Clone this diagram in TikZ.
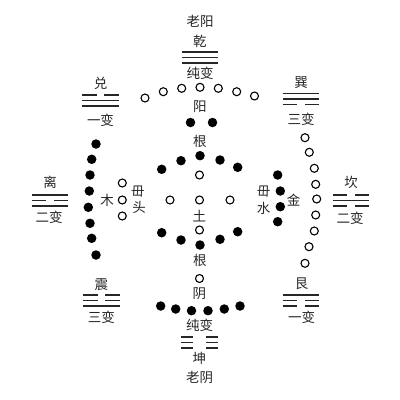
\documentclass[tikz,border=0pt]{standalone}
\usepackage{fontspec}
\newfontfamily\cjk{Noto Sans CJK SC}
\begin{document}
\begin{tikzpicture}[x=1pt,y=-1pt,
  lbl/.style={inner sep=0pt,font=\cjk\fontsize{13.5}{14}\selectfont,text=black!85},
  odot/.style={circle,draw=black,line width=1.1pt,fill=white,minimum size=8pt,inner sep=0pt},
  bdot/.style={circle,fill=black,minimum size=9.5pt,inner sep=0pt},
  yao/.style={line width=1.5pt,black!85}]
\useasboundingbox (0,0) rectangle (400,400);
\newcommand\solidyao[2]{\draw[yao] ({#1-18.3},#2) -- ({#1+18.3},#2);}
\newcommand\brokenyao[3]{\draw[yao] ({#1-18.3},#2) -- ({#1-#3},#2) ({#1+#3},#2) -- ({#1+18.3},#2);}
% top: qian
\node[lbl] (laoyang) at (200,21) {老阳};
\node[lbl] (qian) at (200,41) {乾};
\solidyao{200}{52}\solidyao{200}{57.5}\solidyao{200}{63}
\node[lbl] (qianb) at (200,73) {纯变};
\foreach \x/\y [count=\i] in {145/98,163.3/91.7,181.7/88.3,200/87.3,218.3/88.3,236.7/91.7,254.5/96}
  \node[odot] (t\i) at (\x,\y) {};
\node[lbl] (yang) at (200,106.5) {阳};
\node[bdot] (y1) at (190.5,122.5) {};
\node[bdot] (y2) at (212.5,122.5) {};
\node[lbl] (gen1) at (200,141) {根};
% dui
\node[lbl] (dui) at (100.5,83) {兑};
\brokenyao{100.5}{95}{3.8}\solidyao{100.5}{100.5}\solidyao{100.5}{106}
\node[lbl] (duib) at (100.5,120) {一变};
% li
\node[lbl] (li) at (50,182) {离};
\solidyao{50}{195}\brokenyao{50}{200.5}{3.8}\solidyao{50}{206}
\node[lbl] (lib) at (49,217) {二变};
% zhen
\node[lbl] (zhen) at (101.5,285) {震};
\brokenyao{101.5}{295}{3.8}\brokenyao{101.5}{300.5}{3.8}\solidyao{101.5}{306}
\node[lbl] (zhenb) at (101.5,317.5) {三变};
% xun
\node[lbl] (xun) at (301,83) {巽};
\solidyao{301}{93.5}\solidyao{301}{99}\brokenyao{301}{104.5}{3.8}
\node[lbl] (xunb) at (301,119.5) {三变};
% kan
\node[lbl] (kan) at (351,182) {坎};
\brokenyao{351}{195}{3.8}\solidyao{351}{200.5}\brokenyao{351}{206}{3.8}
\node[lbl] (kanb) at (350,218.5) {二变};
% gen
\node[lbl] (genb1) at (301.5,283.5) {艮};
\solidyao{301}{295}\brokenyao{301}{300.5}{3.8}\brokenyao{301}{306}{3.8}
\node[lbl] (genb) at (301.5,317) {一变};
% left arc
\foreach \x/\y [count=\i] in {96/144,91.7/159.3,90/175,89.3/191,88.3/207.3,90/223.3,91.7/238.3,96/255}
  \node[bdot] (l\i) at (\x,\y) {};
% right arc
\foreach \x/\y [count=\i] in {305/137.7,309.3/152.3,314.3/168.3,315.7/184.3,316.7/199,315.7/215,314.3/231,309/246.7,305/263.3}
  \node[odot] (r\i) at (\x,\y) {};
% center
\foreach \x/\y [count=\i] in {161.7/169.3,181/160.7,200/155.7,220/160,237.7/167.3}
  \node[bdot] (cu\i) at (\x,\y) {};
\foreach \x/\y [count=\i] in {161.7/232.7,181/240,200/245,220/239.3,237.7/231.7}
  \node[bdot] (cd\i) at (\x,\y) {};
\node[odot] (c1) at (199.5,175) {};
\node[odot] (c2) at (170,200) {};
\node[odot] (c3) at (199.5,200) {};
\node[odot] (c4) at (230,200) {};
\node[lbl] (tu) at (199.5,216.5) {土};
\node[odot] (c5) at (199.5,230) {};
\node[lbl] (gen2) at (200,260) {根};
% wood
\node[odot] (w1) at (122.3,183) {};
\node[odot] (w2) at (122.3,200) {};
\node[odot] (w3) at (122.3,216) {};
\node[lbl] (mu) at (107,200) {木};
\node[lbl] (wu1) at (138,192) {毌};
\node[lbl] (tou) at (139,207) {头};
% metal
\node[bdot] (m1) at (277.7,175) {};
\node[bdot] (m2) at (280.3,191) {};
\node[bdot] (m3) at (280.3,206.7) {};
\node[bdot] (m4) at (277.7,221.7) {};
\node[lbl] (wu2) at (263.5,192) {毌};
\node[lbl] (shui) at (263.5,208.5) {水};
\node[lbl] (jin) at (293.5,200) {金};
% bottom: kun
\node[odot] (b0) at (199.5,278.5) {};
\node[lbl] (yin) at (199.5,294) {阴};
\foreach \x/\y [count=\i] in {160.7/306,175.7/309,191.5/310.7,208/310.7,224.3/309,240/306}
  \node[bdot] (b\i) at (\x,\y) {};
\node[lbl] (kunb) at (199.5,325) {纯变};
\brokenyao{199.5}{337}{6.5}\brokenyao{199.5}{342.5}{6.5}\brokenyao{199.5}{348}{6.5}
\node[lbl] (kun) at (199.5,358.5) {坤};
\node[lbl] (laoyin) at (199.5,377) {老阴};
\end{tikzpicture}
\end{document}
